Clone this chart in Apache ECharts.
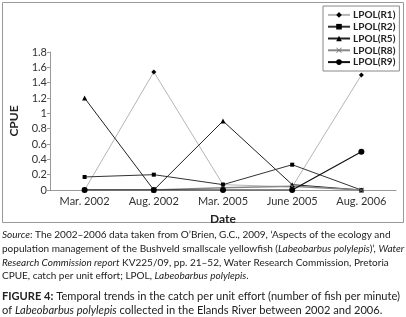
<!DOCTYPE html>
<html>
<head>
<meta charset="utf-8">
<script src="https://cdn.jsdelivr.net/npm/echarts@6/dist/echarts.min.js"></script>
<style>
  html, body { margin: 0; padding: 0; background: #fff; }
  #chart { width: 406px; height: 317px; }
</style>
</head>
<body>
<div id="chart"></div>
<script>
// 图表数据
const dates = ['Mar. 2002', 'Aug. 2002', 'Mar. 2005', 'June 2005', 'Aug. 2006'];
const lpolR1 = [0, 1.54, 0.07, 0.04, 1.5];
const lpolR2 = [0.17, 0.2, 0.07, 0.33, 0];
const lpolR5 = [1.2, 0, 0.9, 0.07, 0];
const lpolR8 = [0, 0, 0.03, 0.05, 0];
const lpolR9 = [0, 0, 0, 0, 0.5];
const yTicks = { min: 0, max: 1.8, step: 0.2 };

const FONT = 'Lato';
const crossPath = 'path://M0,1L1,0L5,4L9,0L10,1L6,5L10,9L9,10L5,6L1,10L0,9L4,5Z';

const myChart = echarts.init(document.getElementById('chart'));

function makeSeries(name, data, opts) {
    return {
        name: name,
        type: 'line',
        data: data,
        symbol: opts.symbol,
        symbolSize: opts.size,
        showAllSymbol: true,
        z: opts.z || 2,
        lineStyle: { color: opts.line, width: opts.width },
        itemStyle: { color: opts.marker || '#000', borderWidth: 0 },
        emphasis: { disabled: true },
        animation: false
    };
}

const option = {
    animation: false,
    grid: { left: 48, right: 10, top: 52, bottom: 127 },
    legend: {
        orient: 'vertical',
        left: 323,
        top: 6,
        padding: [3, 4, 3, 4],
        itemGap: 0,
        itemWidth: 22,
        itemHeight: 7,
        borderColor: '#888',
        borderWidth: 1,
        textStyle: { fontFamily: FONT, fontSize: 10, lineHeight: 11.8, color: '#222', fontWeight: 'bold', padding: [0, 0, 0, -2] },
        data: ['LPOL(R1)', 'LPOL(R2)', 'LPOL(R5)', 'LPOL(R8)', 'LPOL(R9)']
    },
    xAxis: {
        type: 'category',
        data: dates,
        boundaryGap: true,
        name: 'Date',
        nameLocation: 'middle',
        nameGap: 23,
        nameTextStyle: { fontFamily: FONT, fontSize: 12, fontWeight: 'bold', color: '#222' },
        axisLine: { lineStyle: { color: '#999' } },
        axisTick: { show: false },
        axisLabel: { fontFamily: FONT, fontSize: 11, color: '#333', margin: 6 }
    },
    yAxis: {
        type: 'value',
        min: yTicks.min,
        max: yTicks.max,
        interval: yTicks.step,
        name: 'CPUE',
        nameLocation: 'middle',
        nameGap: 30,
        nameTextStyle: { fontFamily: FONT, fontSize: 12, fontWeight: 'bold', color: '#222' },
        axisLine: { show: true, lineStyle: { color: '#999' } },
        axisTick: { show: true, length: 3, lineStyle: { color: '#999' } },
        axisLabel: { fontFamily: FONT, fontSize: 11, color: '#333', margin: 3 },
        splitLine: { show: false }
    },
    series: [
        makeSeries('LPOL(R1)', lpolR1, { symbol: 'diamond', size: 5, line: '#b5b5b5', width: 1 }),
        makeSeries('LPOL(R2)', lpolR2, { symbol: 'rect', size: 4, line: '#333', width: 1 }),
        makeSeries('LPOL(R5)', lpolR5, { symbol: 'triangle', size: 5, line: '#222', width: 1 }),
        makeSeries('LPOL(R8)', lpolR8, { symbol: crossPath, size: 5, line: '#888', width: 1.5, marker: '#777' }),
        makeSeries('LPOL(R9)', lpolR9, { symbol: 'circle', size: 6, line: '#111', width: 1.2, z: 3 })
    ],
    graphic: [
        {
            type: 'rect',
            shape: { x: 2.5, y: 2.5, width: 401, height: 220 },
            style: { fill: 'none', stroke: '#999', lineWidth: 1 },
            silent: true
        },
        {
            type: 'text',
            left: 2,
            top: 230,
            style: {
                text: '{i|Source}{n|: The 2002–2006 data taken from O’Brien, G.C., 2009, ‘Aspects of the ecology and}\n' +
                      '{n|population management of the Bushveld smallscale yellowfish (}{i|Labeobarbus polylepis}{n|)’, }{i|Water}\n' +
                      '{i|Research Commission report}{n| KV225/09, pp. 21–52, Water Research Commission, Pretoria}\n' +
                      '{n|CPUE, catch per unit effort; LPOL, }{i|Labeobarbus polylepis}{n|.}',
                rich: {
                    n: { fontFamily: FONT, fontSize: 10, lineHeight: 13.7, fill: '#222' },
                    i: { fontFamily: FONT, fontSize: 10, lineHeight: 13.7, fill: '#222', fontStyle: 'italic' }
                }
            }
        },
        {
            type: 'text',
            left: 2,
            top: 291,
            style: {
                text: '{b|FIGURE 4:}{n| Temporal trends in the catch per unit effort (number of fish per minute)}\n' +
                      '{n|of }{i|Labeobarbus polylepis}{n| collected in the Elands River between 2002 and 2006.}',
                rich: {
                    b: { fontFamily: FONT, fontSize: 11.1, lineHeight: 13.5, fill: '#222', fontWeight: 'bold' },
                    n: { fontFamily: FONT, fontSize: 11.1, lineHeight: 13.5, fill: '#222' },
                    i: { fontFamily: FONT, fontSize: 11.1, lineHeight: 13.5, fill: '#222', fontStyle: 'italic' }
                }
            }
        }
    ]
};

myChart.setOption(option);
</script>
</body>
</html>
